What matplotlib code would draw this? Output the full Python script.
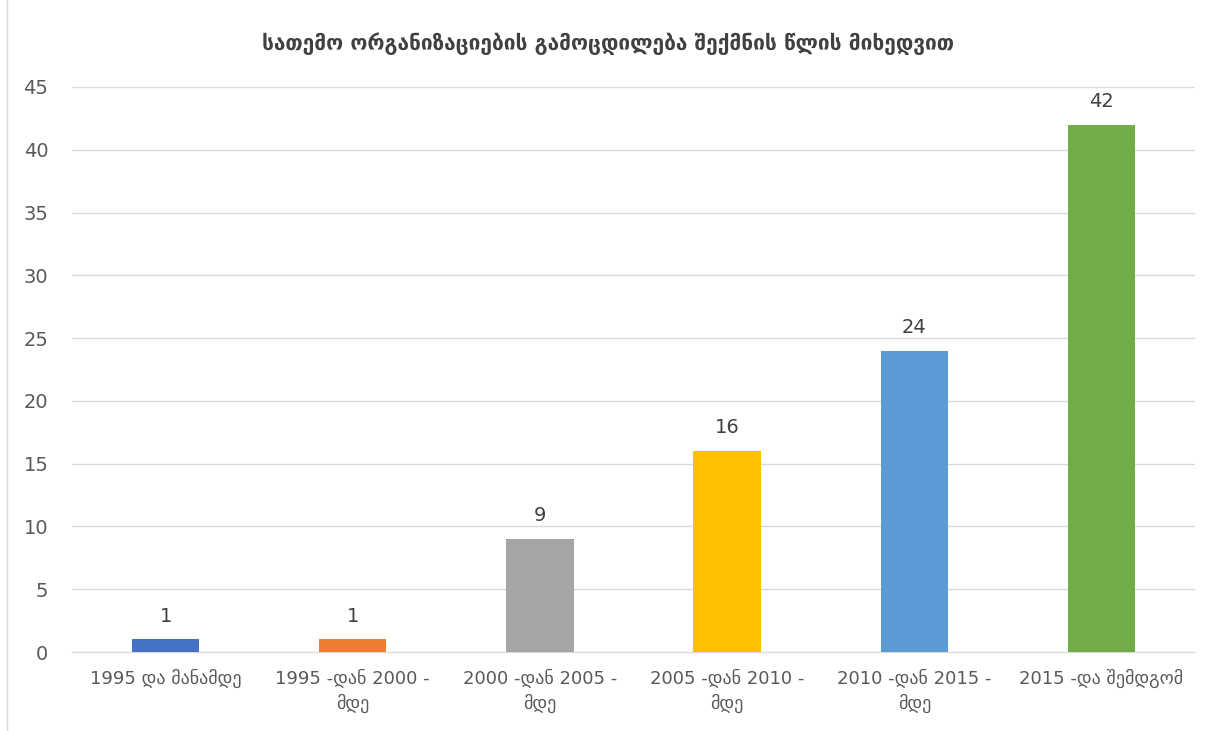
import matplotlib
matplotlib.use("Agg")
import matplotlib.pyplot as plt

# Data
categories = [
    "1995 და მანამდე",
    "1995 -დან 2000 -\nმდე",
    "2000 -დან 2005 -\nმდე",
    "2005 -დან 2010 -\nმდე",
    "2010 -დან 2015 -\nმდე",
    "2015 -და შემდგომ",
]
values = [1, 1, 9, 16, 24, 42]
colors = ["#4472C4", "#ED7D31", "#A5A5A5", "#FFC000", "#5B9BD5", "#70AD47"]
title = "სათემო ორგანიზაციების გამოცდილება შექმნის წლის მიხედვით"

plt.rcParams["font.family"] = ["DejaVu Sans"]

fig = plt.figure(figsize=(12.17, 7.31), dpi=100)
ax = fig.add_axes([0.0592, 0.108, 0.9228, 0.773])

x = range(len(categories))
bars = ax.bar(x, values, width=0.36, color=colors, zorder=3)

for b, v in zip(bars, values):
    ax.annotate(str(v), (b.get_x() + b.get_width() / 2, v),
                xytext=(0, 10), textcoords="offset points",
                ha="center", va="bottom", fontsize=14, color="#404040")

ax.set_xlim(-0.5, len(categories) - 0.5)
ax.set_ylim(0, 45)
ax.set_yticks(range(0, 46, 5))
ax.yaxis.grid(True, color="#D9D9D9", linewidth=1, zorder=0)
ax.set_xticks(list(x))
ax.set_xticklabels(categories, fontsize=13, color="#595959", linespacing=1.45)
ax.tick_params(axis="y", labelsize=14, labelcolor="#595959", length=0, pad=17)
ax.tick_params(axis="x", length=0, pad=12)
for s in ["top", "right", "left"]:
    ax.spines[s].set_visible(False)
ax.spines["bottom"].set_color("#D9D9D9")

fig.text(0.5, 0.941, title, ha="center", va="center", fontsize=15,
         fontweight="bold", color="#404040")

# chart area border (left edge visible in reference)
fig.add_artist(plt.Line2D([0.006, 0.006], [0, 1], transform=fig.transFigure,
                          color="#D9D9D9", linewidth=1))

fig.savefig("out.png", dpi=100)
